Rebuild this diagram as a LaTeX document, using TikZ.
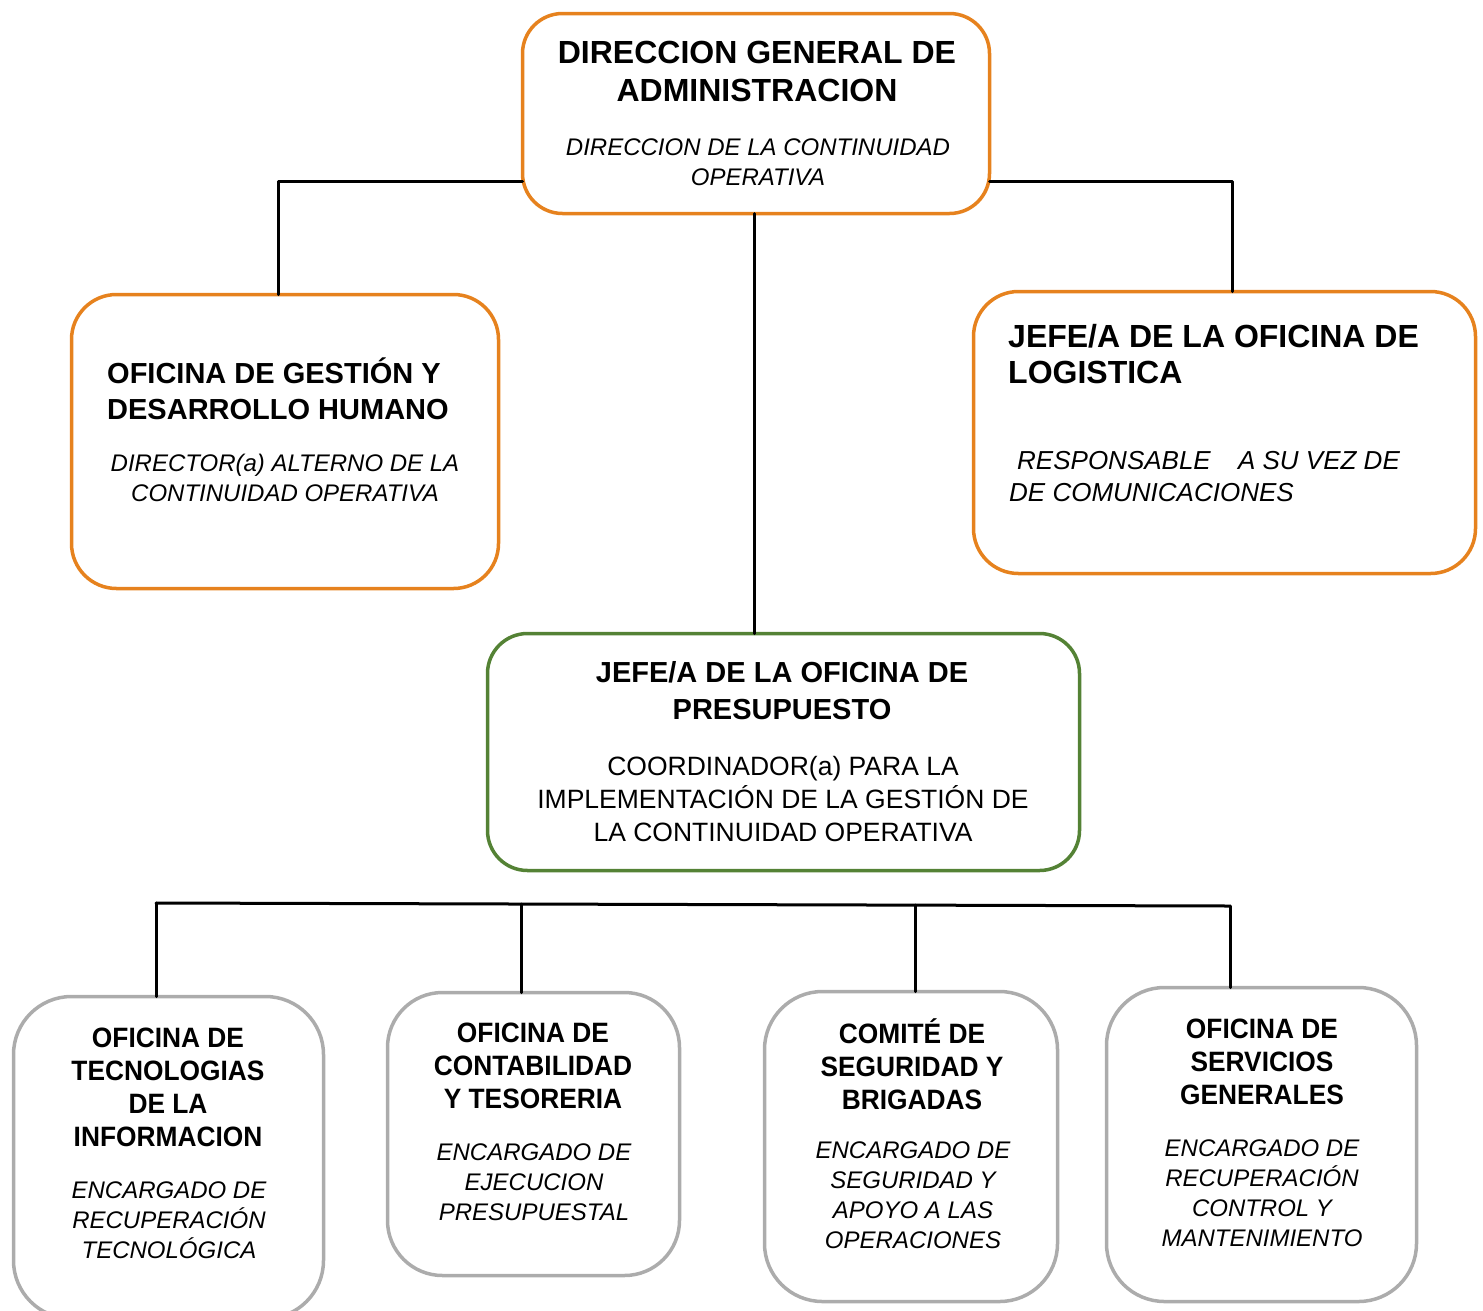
\documentclass[tikz,border=0pt]{standalone}
\usepackage{fontspec}
\setmainfont{Liberation Sans}
\newfontfamily\narrowsans[FakeStretch=0.94]{Liberation Sans}
\definecolor{naranja}{RGB}{230,130,30}
\definecolor{verde}{RGB}{84,130,53}
\definecolor{gris}{RGB}{172,172,172}

\begin{document}
\begin{tikzpicture}[x=1pt,y=-1pt, line join=round, line cap=round,
	caja/.style={draw, rounded corners=#1, inner sep=0pt, outer sep=0pt, line width=3.5pt},
	caja/.default=40pt,
	titulo/.style={inner sep=0pt, align=center, font=\bfseries\fontsize{32}{38}\selectfont},
	cargo/.style={inner sep=0pt, align=center, font=\itshape\fontsize{24}{30}\selectfont},
	tituloN/.style={inner sep=0pt, align=center, font=\narrowsans\bfseries\fontsize{28}{33}\selectfont},
	linea/.style={line width=3pt, black}]
	\useasboundingbox (0,0) rectangle (1483,1310);
	% cajas
	\node[caja, naranja, minimum width=467, minimum height=200] (dga) at (756,113.5) {};
	\node[caja=45pt, naranja, minimum width=427, minimum height=294] (ogdh) at (285,441.5) {};
	\node[caja=45pt, naranja, minimum width=502, minimum height=282] (jlog) at (1224.5,432.5) {};
	\node[caja, verde, minimum width=592, minimum height=237] (jpre) at (783.5,752) {};
	\node[caja=58pt, gris, minimum width=310, minimum height=322] (oti) at (168.5,1157.5) {};
	\node[caja=55pt, gris, minimum width=292, minimum height=283] (oct) at (533.5,1134) {};
	\node[caja=58pt, gris, minimum width=293, minimum height=310] (csb) at (911,1146.5) {};
	\node[caja=58pt, gris, minimum width=310, minimum height=314] (osg) at (1261.5,1144.5) {};
	% textos
	\node[titulo] (dga-t) at (757,71.5) {DIRECCION GENERAL DE\\ADMINISTRACION};
	\node[cargo] (dga-c) at (758,162.5) {DIRECCION DE LA CONTINUIDAD\\OPERATIVA};
	\node[titulo, align=left, anchor=west, font=\bfseries\fontsize{29}{36}\selectfont] (ogdh-t) at (107,389) {OFICINA DE GESTIÓN Y\\DESARROLLO HUMANO};
	\node[cargo] (ogdh-c) at (285,478) {DIRECTOR(a) ALTERNO DE LA\\CONTINUIDAD OPERATIVA};
	\node[titulo, align=left, anchor=west, font=\bfseries\fontsize{32}{36}\selectfont] (jlog-t) at (1008,354) {JEFE/A DE LA OFICINA DE\\LOGISTICA};
	\node[cargo, align=left, anchor=west, font=\itshape\fontsize{26}{32}\selectfont] (jlog-c) at (1009,477) {\hspace{8pt}RESPONSABLE\hspace{20pt} A SU VEZ DE\\DE COMUNICACIONES};
	\node[titulo, font=\bfseries\fontsize{29}{37}\selectfont] (jpre-t) at (782,690.5) {JEFE/A DE LA OFICINA DE\\PRESUPUESTO};
	\node[cargo, font=\fontsize{26.5}{33}\selectfont] (jpre-c) at (783,799) {COORDINADOR(a) PARA LA\\IMPLEMENTACIÓN DE LA GESTIÓN DE\\LA CONTINUIDAD OPERATIVA};
	\node[tituloN] (oti-t) at (168,1087.5) {OFICINA DE\\TECNOLOGIAS\\DE LA\\INFORMACION};
	\node[cargo] (oti-c) at (169,1220) {ENCARGADO DE\\RECUPERACIÓN\\TECNOLÓGICA};
	\node[tituloN] (oct-t) at (533,1066) {OFICINA DE\\CONTABILIDAD\\Y TESORERIA};
	\node[cargo] (oct-c) at (534,1182) {ENCARGADO DE\\EJECUCION\\PRESUPUESTAL};
	\node[tituloN] (csb-t) at (912,1064) {COMITÉ DE\\SEGURIDAD Y\\BRIGADAS};
	\node[cargo] (csb-c) at (913,1195) {ENCARGADO DE\\SEGURIDAD Y\\APOYO A LAS\\OPERACIONES};
	\node[tituloN] (osg-t) at (1262,1062) {OFICINA DE\\SERVICIOS\\GENERALES};
	\node[cargo] (osg-c) at (1262,1193) {ENCARGADO DE\\RECUPERACIÓN\\CONTROL Y\\MANTENIMIENTO};
	% conectores
	\coordinate (ji) at (278,181);
	\coordinate (jd) at (1232,181);
	\draw[linea] (dga.west |- ji) -- (ji) -- (ji |- ogdh.north);
	\draw[linea] (dga.east |- jd) -- (jd) -- (jd |- jlog.north);
	\draw[linea] (dga.south -| 754,0) -- (754,0 |- jpre.north);
	\coordinate (b1) at (156,903);
	\coordinate (b2) at (521,904);
	\coordinate (b3) at (915,905);
	\coordinate (b4) at (1230,906);
	\draw[linea] (b1) -- (b4);
	\draw[linea] (b1) -- (b1 |- oti.north);
	\draw[linea] (b2) -- (b2 |- oct.north);
	\draw[linea] (b3) -- (b3 |- csb.north);
	\draw[linea] (b4) -- (b4 |- osg.north);
\end{tikzpicture}
\end{document}
